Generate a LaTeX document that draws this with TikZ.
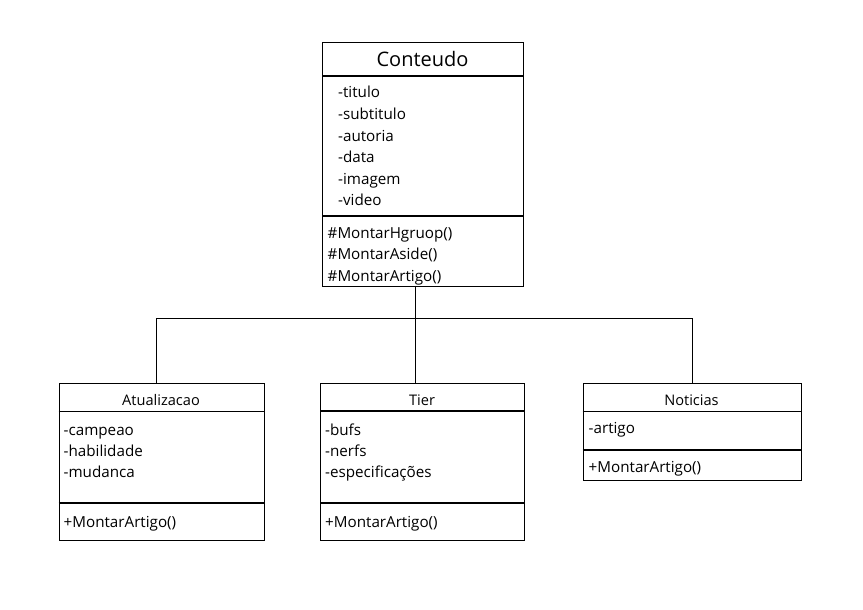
\documentclass[tikz,border=0pt]{standalone}
\usepackage{fontspec}
\setmainfont{Open Sans}
\begin{document}
\begin{tikzpicture}[x=1pt,y=-1pt,
  box/.style={draw=black, line width=1.2pt, rectangle, inner sep=0pt, anchor=north west},
  sep/.style={line width=1.2pt},
  conn/.style={line width=0.9pt},
  txt/.style={anchor=base west, inner sep=0pt, font=\fontsize{15.2}{18}\selectfont},
  ttl/.style={anchor=base, inner sep=0pt, font=\fontsize{14.6}{17}\selectfont},
  bigttl/.style={anchor=base, inner sep=0pt, font=\fontsize{20}{24}\selectfont}]
\useasboundingbox[fill=white] (0,0) rectangle (863,610);
% Conteudo
\node[box, minimum width=201pt, minimum height=244pt] (cont) at (322,42) {};
\draw[sep] (322,76) -- (523,76);
\draw[sep] (322,216) -- (523,216);
\node[bigttl] (contT) at (422.5,67) {Conteudo};
\node[txt] (a1) at (338,98) {-titulo};
\node[txt] (a2) at (338,119.5) {-subtitulo};
\node[txt] (a3) at (338,141) {-autoria};
\node[txt] (a4) at (338,162.5) {-data};
\node[txt] (a5) at (338,184) {-imagem};
\node[txt] (a6) at (338,205.5) {-video};
\node[txt] (m1) at (327.5,238) {\#MontarHgruop()};
\node[txt] (m2) at (327.5,259.5) {\#MontarAside()};
\node[txt] (m3) at (327.5,281) {\#MontarArtigo()};
% Atualizacao
\node[box, minimum width=205pt, minimum height=157pt] (atu) at (58.5,383) {};
\draw[sep] (58.5,411.5) -- (263.5,411.5);
\node[ttl] (atuT) at (161,405) {Atualizacao};
\draw[sep] (58.5,503) -- (263.5,503);
\node[txt] (b1) at (63.5,435) {-campeao};
\node[txt] (b2) at (63.5,456) {-habilidade};
\node[txt] (b3) at (63.5,477) {-mudanca};
\node[txt] (b4) at (63.5,527) {+MontarArtigo()};
% Tier
\node[box, minimum width=204pt, minimum height=157pt] (tier) at (320,383) {};
\draw[sep] (320,411) -- (524,411);
\node[ttl] (tierT) at (422,405) {Tier};
\draw[sep] (320,503) -- (524,503);
\node[txt] (c1) at (325,435) {-bufs};
\node[txt] (c2) at (325,456) {-nerfs};
\node[txt] (c3) at (325,477) {-especificações};
\node[txt] (c4) at (325,527) {+MontarArtigo()};
% Noticias
\node[box, minimum width=218pt, minimum height=97pt] (not) at (582.5,383) {};
\draw[sep] (582.5,411.5) -- (800.5,411.5);
\node[ttl] (notT) at (691.5,405) {Noticias};
\draw[sep] (582.5,450) -- (800.5,450);
\node[txt] (d1) at (588.5,433.5) {-artigo};
\node[txt] (d2) at (588.5,472) {+MontarArtigo()};
% connectors
\coordinate (j) at (415,318);
\coordinate (jl) at (156,318);
\coordinate (jr) at (692,318);
\draw[conn] (cont.south -| j) -- (j);
\draw[conn] (j) -- (tier.north -| j);
\draw[conn] (jl) -- (jr);
\draw[conn] (jl) -- (atu.north -| jl);
\draw[conn] (jr) -- (not.north -| jr);
\end{tikzpicture}
\end{document}
